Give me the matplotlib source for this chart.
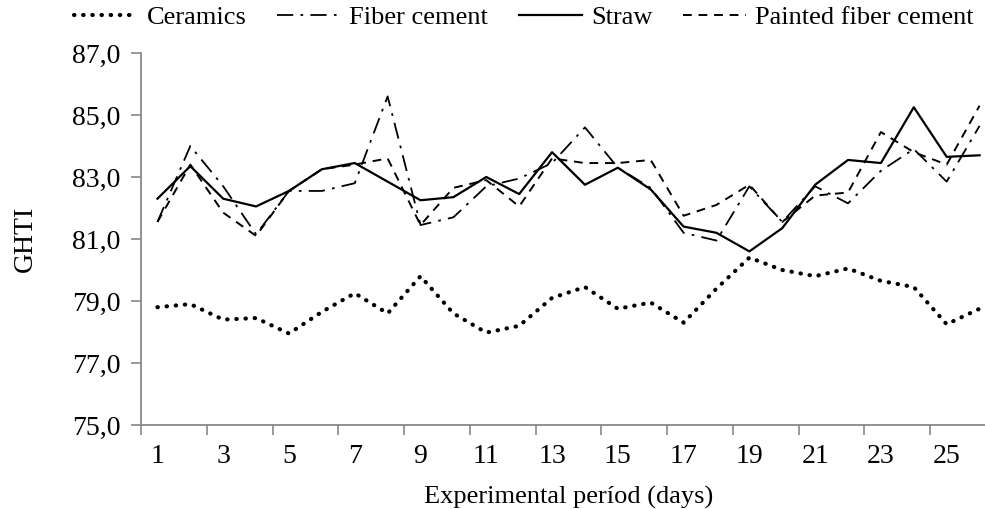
import matplotlib
matplotlib.use('Agg')
import matplotlib.pyplot as plt
import numpy as np

plt.rcParams['font.family'] = 'Liberation Serif'

# Dias do período experimental
dias = np.arange(1, 27)

# GHTI por cobertura
ceramics = [78.8, 78.9, 78.4, 78.45, 77.95, 78.65, 79.25, 78.6, 79.8,
            78.6, 77.98, 78.2, 79.1, 79.45, 78.75, 78.95, 78.3, 79.4,
            80.4, 80.0, 79.8, 80.05, 79.65, 79.45, 78.25, 78.75]
fiber_cement = [81.55, 84.0, 82.7, 81.15, 82.55, 82.55, 82.8, 85.6, 81.45,
                81.7, 82.7, 82.95, 83.45, 84.6, 83.3, 82.65, 81.2, 80.95,
                82.7, 81.55, 82.7, 82.15, 83.2, 83.9, 82.85, 84.65]
straw = [82.3, 83.35, 82.3, 82.05, 82.55, 83.25, 83.45, 82.85, 82.25,
         82.35, 83.0, 82.45, 83.8, 82.75, 83.3, 82.6, 81.4, 81.2,
         80.6, 81.35, 82.75, 83.55, 83.45, 85.25, 83.65, 83.7]
painted = [81.55, 83.4, 81.85, 81.1, 82.55, 83.25, 83.4, 83.6, 81.45,
           82.65, 82.9, 82.05, 83.6, 83.45, 83.45, 83.55, 81.75, 82.1,
           82.75, 81.55, 82.4, 82.5, 84.45, 83.8, 83.4, 85.3]

fig = plt.figure(figsize=(9.85, 5.09), dpi=100)
ax = fig.add_axes([141/985, 1-425/509, (996-141)/985, 372/509])

ax.plot(dias, ceramics, color='black', linestyle=(0, (0.1, 2.1)),
        dash_capstyle='round', linewidth=3.0, label='Ceramics')
ax.plot(dias, fiber_cement, color='black', linestyle=(0, (9, 4, 1.5, 4)),
        linewidth=1.3, label='Fiber cement')
ax.plot(dias, straw, color='black', linestyle='-', linewidth=1.6, label='Straw')
ax.plot(dias, painted, color='black', linestyle=(0, (4.5, 3.5)),
        linewidth=1.4, label='Painted fiber cement')

ax.set_xlim(0.5, 26.5)
ax.set_ylim(75, 87)
ax.set_yticks(np.arange(75, 88, 2))
ax.set_yticklabels([f'{v:.1f}'.replace('.', ',') for v in np.arange(75, 88, 2)])

# ticks entre categorias, rótulos nos dias ímpares
ax.set_xticks(np.arange(0.5, 26, 2))
ax.set_xticklabels([])
ax.set_xticks(np.arange(1, 27, 2), minor=True)
ax.set_xticklabels([str(d) for d in range(1, 27, 2)], minor=True)
ax.tick_params(axis='x', which='minor', length=0, pad=14, labelsize=20)
ax.tick_params(axis='x', which='major', length=7, width=1.2, color='#888888')
ax.tick_params(axis='y', length=7, width=1.2, color='#888888', pad=8, labelsize=20)

for s in ['top', 'right']:
    ax.spines[s].set_visible(False)
for s in ['left', 'bottom']:
    ax.spines[s].set_color('#888888')
    ax.spines[s].set_linewidth(1.3)

ax.set_ylabel('GHTI', fontsize=20, labelpad=24)
ax.set_xlabel('Experimental períod (days)', fontsize=19, va='center')
ax.xaxis.set_label_coords(0.5006, -0.1935)

fig.legend(loc='center', bbox_to_anchor=(0.532, 1-17/509), ncol=4, frameon=False,
           fontsize=19, handlelength=2.4, handletextpad=0.35, columnspacing=1.15,
           borderaxespad=0)

fig.savefig('out.png', dpi=100)
